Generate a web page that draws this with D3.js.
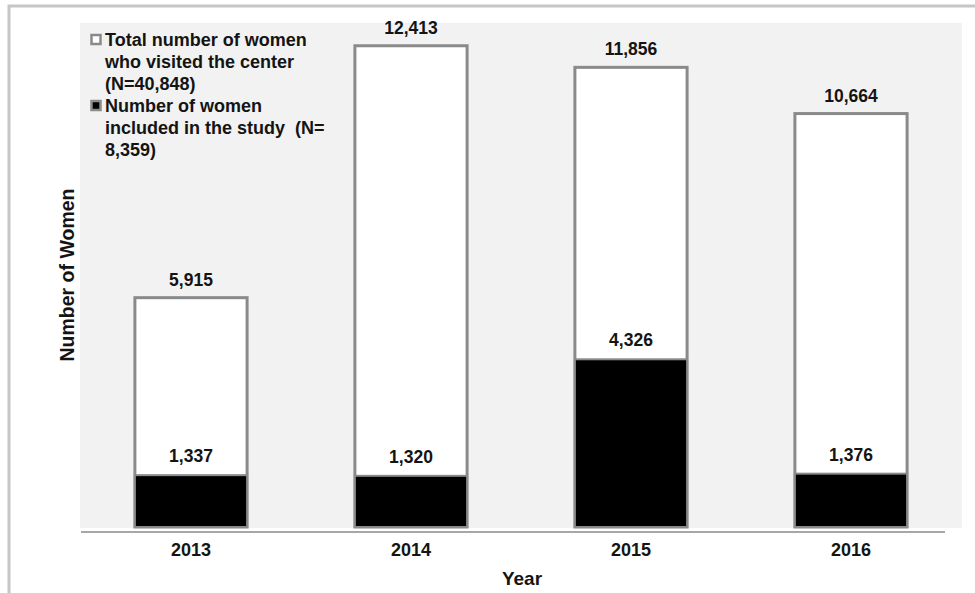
<!DOCTYPE html>
<html>
<head>
<meta charset="utf-8">
<script src="https://cdn.jsdelivr.net/npm/d3@7"></script>
<style>
  html, body { margin: 0; padding: 0; background: #ffffff; }
  svg { display: block; }
  text { font-family: "Liberation Sans", Arial, Helvetica, sans-serif; font-weight: bold; fill: #141414; white-space: pre; }
</style>
</head>
<body>
<svg id="chart" width="975" height="593"></svg>
<script>
// Women seen at the center per year, and the subset included in the study
const years = ["2013", "2014", "2015", "2016"];
const totalVisited = [5915, 12413, 11856, 10664];
const includedInStudy = [1337, 1320, 4326, 1376];
const legendLabels = [
  ["Total number of women", "who visited the center", "(N=40,848)"],
  ["Number of women", "included in the study  (N=", "8,359)"]
];
const xTitle = "Year";
const yTitle = "Number of Women";

const svg = d3.select("#chart");
const W = 975, H = 593;
const plot = { left: 81, right: 961, top: 23, bottom: 527 };

// outer frame (runs off the right and bottom edges)
svg.append("rect")
  .attr("x", 9).attr("y", 6)
  .attr("width", W + 20).attr("height", H + 20)
  .attr("fill", "#ffffff")
  .attr("stroke", "#c6c6c6").attr("stroke-width", 3);

// plot background
svg.append("rect")
  .attr("x", plot.left - 1).attr("y", plot.top)
  .attr("width", plot.right - plot.left + 2).attr("height", plot.bottom - plot.top + 1)
  .attr("fill", "#f2f2f2");

const x = d3.scaleBand().domain(years).range([plot.left, plot.right]).paddingInner(0.49).paddingOuter(0.245);
const y = d3.scaleLinear().domain([0, 13000]).range([plot.bottom, plot.top]);
const fmt = d3.format(",");

const g = svg.append("g");

// total bars (white) and included bars (black) share the same baseline
g.selectAll("rect.total").data(years).join("rect")
  .attr("class", "total")
  .attr("x", d => x(d)).attr("width", x.bandwidth())
  .attr("y", (d, i) => y(totalVisited[i]))
  .attr("height", (d, i) => y(0) - y(totalVisited[i]))
  .attr("fill", "#ffffff").attr("stroke", "#8a8a8a").attr("stroke-width", 3);

g.selectAll("rect.included").data(years).join("rect")
  .attr("class", "included")
  .attr("x", d => x(d)).attr("width", x.bandwidth())
  .attr("y", (d, i) => y(includedInStudy[i]))
  .attr("height", (d, i) => y(0) - y(includedInStudy[i]))
  .attr("fill", "#000000").attr("stroke", "#8a8a8a").attr("stroke-width", 2);

// value labels
g.selectAll("text.totalLbl").data(years).join("text")
  .attr("class", "totalLbl")
  .attr("x", d => x(d) + x.bandwidth() / 2)
  .attr("y", (d, i) => y(totalVisited[i]) - 12)
  .attr("text-anchor", "middle").attr("font-size", 17.5)
  .text((d, i) => fmt(totalVisited[i]));

g.selectAll("text.inclLbl").data(years).join("text")
  .attr("class", "inclLbl")
  .attr("x", d => x(d) + x.bandwidth() / 2)
  .attr("y", (d, i) => y(includedInStudy[i]) - 13)
  .attr("text-anchor", "middle").attr("font-size", 17.5)
  .text((d, i) => fmt(includedInStudy[i]));

// x axis
const xAxis = svg.append("g")
  .attr("transform", `translate(0,${plot.bottom + 5})`)
  .call(d3.axisBottom(x).tickSize(0).tickPadding(11));
xAxis.select(".domain").remove();
xAxis.append("line")
  .attr("x1", plot.left).attr("x2", 945)
  .attr("y1", 0).attr("y2", 0)
  .attr("stroke", "#8a8a8a").attr("stroke-width", 1.5);
xAxis.selectAll(".tick text")
  .attr("font-size", 18)
  .attr("font-family", "Liberation Sans, Arial, sans-serif")
  .attr("font-weight", "bold").attr("fill", "#141414");

// axis titles
svg.append("text")
  .attr("x", 522).attr("y", 585)
  .attr("text-anchor", "middle").attr("font-size", 19)
  .text(xTitle);

svg.append("text")
  .attr("transform", "translate(74,275) rotate(-90)")
  .attr("text-anchor", "middle").attr("font-size", 19.5)
  .text(yTitle);

// legend
const legend = svg.append("g").attr("transform", "translate(90,34)");
const swatches = [
  { fill: "#ffffff", stroke: "#8a8a8a" },
  { fill: "#000000", stroke: "#8a8a8a" }
];
legendLabels.forEach((lines, k) => {
  const top = k * 66;
  legend.append("rect")
    .attr("x", 1.5).attr("y", top + 1)
    .attr("width", 9).attr("height", 9)
    .attr("fill", swatches[k].fill)
    .attr("stroke", swatches[k].stroke).attr("stroke-width", 2.5);
  lines.forEach((ln, j) => {
    legend.append("text")
      .attr("x", 15).attr("y", top + 12 + j * 22)
      .attr("font-size", 18)
      .text(ln);
  });
});
</script>
</body>
</html>
